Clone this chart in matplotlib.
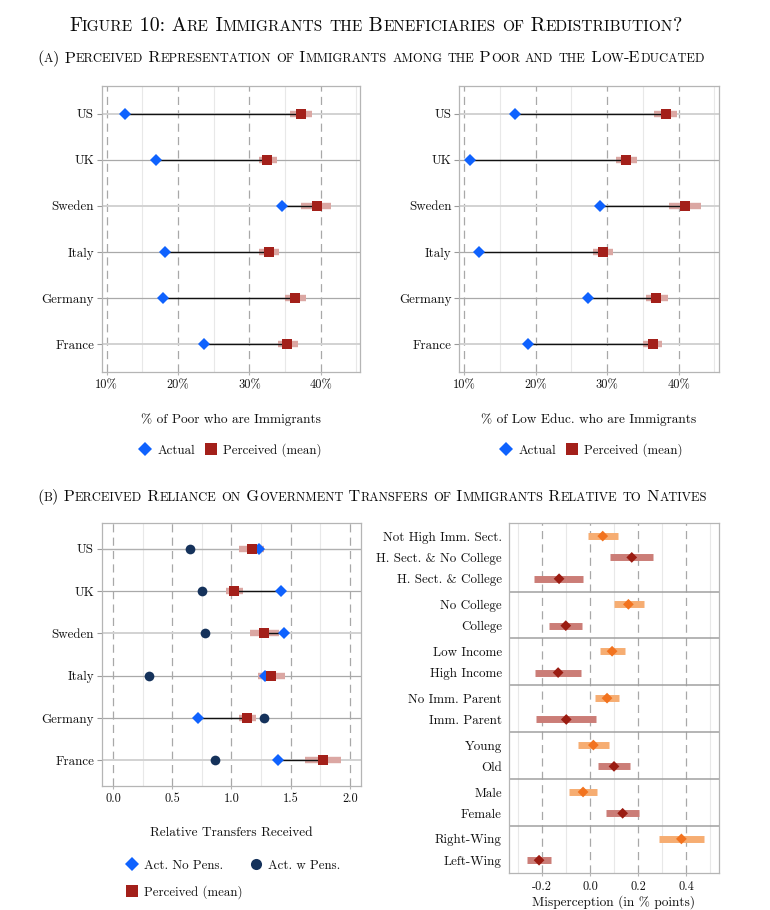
import matplotlib
matplotlib.use("Agg")
import matplotlib.pyplot as plt
from matplotlib.lines import Line2D
from matplotlib import font_manager as fm

FAM = "cmr10"
plt.rcParams.update({
    "font.family": FAM,
    "axes.unicode_minus": False,
    "mathtext.fontset": "cm",
    "axes.formatter.use_mathtext": True,
})

# ---------------- data ----------------
countries = ["US", "UK", "Sweden", "Italy", "Germany", "France"]

poor_actual = [12.6, 16.9, 34.6, 18.2, 17.9, 23.6]
poor_perc = [37.3, 32.5, 39.5, 32.7, 36.4, 35.3]
poor_lo = [35.7, 31.3, 37.3, 31.3, 35.0, 34.0]
poor_hi = [38.8, 33.8, 41.5, 34.1, 37.9, 36.8]

educ_actual = [17.1, 10.8, 29.0, 12.0, 27.3, 18.9]
educ_perc = [38.2, 32.7, 40.9, 29.4, 36.9, 36.4]
educ_lo = [36.5, 31.2, 38.7, 28.0, 35.4, 35.0]
educ_hi = [39.8, 34.2, 43.1, 30.8, 38.5, 37.7]

trans_nopens = [1.235, 1.42, 1.44, 1.28, 0.72, 1.39]
trans_wpens = [0.65, 0.75, 0.78, 0.30, 1.27, 0.86]
trans_perc = [1.17, 1.02, 1.275, 1.335, 1.135, 1.77]
trans_lo = [1.06, 0.95, 1.16, 1.22, 1.065, 1.62]
trans_hi = [1.27, 1.10, 1.40, 1.45, 1.21, 1.92]

mis_groups = [
    ["Not High Imm. Sect.", "H. Sect. & No College", "H. Sect. & College"],
    ["No College", "College"],
    ["Low Income", "High Income"],
    ["No Imm. Parent", "Imm. Parent"],
    ["Young", "Old"],
    ["Male", "Female"],
    ["Right-Wing", "Left-Wing"],
]
mis_est = [0.053, 0.174, -0.129, 0.160, -0.101, 0.092, -0.133, 0.071, -0.099,
           0.014, 0.100, -0.029, 0.136, 0.381, -0.2125]
mis_lo = [-0.008, 0.083, -0.233, 0.100, -0.170, 0.040, -0.230, 0.022, -0.224,
          -0.049, 0.035, -0.0875, 0.065, 0.289, -0.261]
mis_hi = [0.118, 0.264, -0.028, 0.225, -0.033, 0.144, -0.0375, 0.121, 0.024,
          0.079, 0.165, 0.029, 0.205, 0.474, -0.164]

title = "Figure 10: Are Immigrants the Beneficiaries of Redistribution?"
sub_a = "(a) Perceived Representation of Immigrants among the Poor and the Low-Educated"
sub_b = "(b) Perceived Reliance on Government Transfers of Immigrants Relative to Natives"

# ---------------- style ----------------
W, H = 770, 910
BLUE = "#0f62fe"
RED = "#a3201a"
RED_CI = "#dba7a3"
NAVY = "#15325b"
ORANGE = "#f2731f"
ORANGE_CI = "#f6ad72"
DRED = "#9b1c12"
DRED_CI = "#cb7d77"
TXT = "#111111"
FRAME = "#b5b5b5"

fig = plt.figure(figsize=(W / 100, H / 100), dpi=100)


def fx(x):
    return x / W


def fy(y):
    return 1 - y / H


def rect(x0, y0, x1, y1):
    return [x0 / W, 1 - y1 / H, (x1 - x0) / W, (y1 - y0) / H]


def style_axes(ax, major, minor, xlim, ytick_len=3.5):
    ax.set_xlim(*xlim)
    ax.set_xticks(major)
    ax.set_xticks(minor, minor=True)
    ax.grid(which="minor", axis="x", color="#e8e8e8", lw=0.8, zorder=0)
    ax.grid(which="major", axis="x", color="#a8a8a8", lw=0.9,
            linestyle=(0, (6.5, 4.2)), zorder=0)
    ax.set_axisbelow(True)
    for sp in ax.spines.values():
        sp.set_color(FRAME)
        sp.set_linewidth(0.9)
    ax.tick_params(axis="x", which="major", length=2.5, width=0.8, color=FRAME,
                   labelsize=8.9, labelcolor=TXT, pad=3)
    ax.tick_params(axis="x", which="minor", length=0)
    ax.tick_params(axis="y", length=ytick_len, width=0.8, color="#9a9a9a",
                   labelsize=9.4, labelcolor=TXT, pad=2)


ypos = [6 - i for i in range(len(countries))]
hl_col = ["#d2d2d2", "#a9a9a9", "#d2d2d2", "#a9a9a9", "#a9a9a9", "#d2d2d2"]
hl_lw = [1.4, 0.9, 1.4, 0.9, 0.9, 1.4]


def dumbbell(ax, actual, perc, lo, hi):
    for y, c, lw in zip(ypos, hl_col, hl_lw):
        ax.axhline(y, color=c, lw=lw, zorder=1)
    ax.hlines(ypos, lo, hi, color=RED_CI, lw=4.6, zorder=2)
    ax.hlines(ypos, actual, perc, color="#111111", lw=1.0, zorder=3)
    ax.plot(actual, ypos, "D", color=BLUE, ms=6.2, mew=0, ls="none", zorder=5)
    ax.plot(perc, ypos, "s", color=RED, ms=7.8, mew=0, ls="none", zorder=5)
    ax.set_ylim(0.4, 6.6)
    ax.set_yticks(ypos)
    ax.set_yticklabels(countries)


pct_major = [10, 20, 30, 40]
pct_minor = [15, 25, 35, 45]

# Panel a left
ax1 = fig.add_axes(rect(101.7, 86, 360, 372))
style_axes(ax1, pct_major, pct_minor, (9.3, 45.5))
dumbbell(ax1, poor_actual, poor_perc, poor_lo, poor_hi)
ax1.set_xticklabels([f"{v}%" for v in pct_major])

# Panel a right
ax2 = fig.add_axes(rect(459.3, 86, 719.3, 372))
style_axes(ax2, pct_major, pct_minor, (9.3, 45.7))
dumbbell(ax2, educ_actual, educ_perc, educ_lo, educ_hi)
ax2.set_xticklabels([f"{v}%" for v in pct_major])

fig.text(fx(231), fy(420), "% of Poor who are Immigrants", ha="center",
         va="center", fontsize=9.6, color=TXT)
fig.text(fx(589), fy(420), "% of Low Educ. who are Immigrants", ha="center",
         va="center", fontsize=9.6, color=TXT)

h_act = Line2D([], [], marker="D", color=BLUE, ms=7.2, mew=0, ls="none")
h_per = Line2D([], [], marker="s", color=RED, ms=9, mew=0, ls="none")
h_wp = Line2D([], [], marker="o", color=NAVY, ms=8, mew=0, ls="none")
for xc in (230, 591):
    fig.legend([h_act, h_per], ["Actual", "Perceived (mean)"], loc="center",
               bbox_to_anchor=(fx(xc), fy(450)), ncol=2, frameon=False,
               fontsize=9.3, handlelength=1.0, handletextpad=0.45,
               columnspacing=0.7, borderpad=0, labelcolor=TXT)

# Panel b left
ax3 = fig.add_axes(rect(101.7, 523.3, 360.7, 785.7))
style_axes(ax3, [0, 0.5, 1.0, 1.5, 2.0], [0.25, 0.75, 1.25, 1.75], (-0.095, 2.09))
hl_col_b = ["#b0b0b0", "#a9a9a9", "#d2d2d2", "#a9a9a9", "#a9a9a9", "#d2d2d2"]
hl_lw_b = [1.0, 0.9, 1.4, 0.9, 0.9, 1.4]
for y, c, lw in zip(ypos, hl_col_b, hl_lw_b):
    ax3.axhline(y, color=c, lw=lw, zorder=1)
ax3.hlines(ypos, trans_lo, trans_hi, color=RED_CI, lw=4.6, zorder=2)
ax3.hlines(ypos, trans_nopens, trans_perc, color="#111111", lw=1.0, zorder=3)
ax3.plot(trans_wpens, ypos, "o", color=NAVY, ms=7.0, mew=0, ls="none", zorder=5)
ax3.plot(trans_nopens, ypos, "D", color=BLUE, ms=5.8, mew=0, ls="none", zorder=5)
ax3.plot(trans_perc, ypos, "s", color=RED, ms=7.5, mew=0, ls="none", zorder=6)
ax3.set_ylim(0.4, 6.6)
ax3.set_yticks(ypos)
ax3.set_yticklabels(countries)
ax3.set_xticklabels(["0.0", "0.5", "1.0", "1.5", "2.0"])
fig.text(fx(231), fy(833), "Relative Transfers Received", ha="center",
         va="center", fontsize=9.6, color=TXT)
fig.legend([h_act, h_per, h_wp], ["Act. No Pens.", "Perceived (mean)", "Act. w Pens."],
           loc="upper left", bbox_to_anchor=(fx(119), fy(853)), ncol=2,
           frameon=False, fontsize=9.3, handlelength=1.0, handletextpad=0.45,
           columnspacing=0.5, borderpad=0, labelspacing=1.05, labelcolor=TXT)

# Panel b right
ax4 = fig.add_axes(rect(508.7, 523.3, 719.3, 873))
style_axes(ax4, [-0.2, 0.0, 0.2, 0.4], [-0.3, -0.1, 0.1, 0.3, 0.5],
           (-0.339, 0.539), ytick_len=0)
ys, labels, seps = [], [], []
off = 0.0
for gi, g in enumerate(mis_groups):
    for i, lab in enumerate(g):
        ys.append(off + 0.6 + i)
        labels.append(lab)
    off += len(g) - 1 + 1.2
    if gi < len(mis_groups) - 1:
        seps.append(off)
first = []
for g in mis_groups:
    first += [True] + [False] * (len(g) - 1)
for s in seps:
    ax4.axhline(s, color="#a0a0a0", lw=1.1, zorder=1)
ci_cols = [ORANGE_CI if f else DRED_CI for f in first]
pt_cols = [ORANGE if f else DRED for f in first]
ax4.hlines(ys, mis_lo, mis_hi, colors=ci_cols, lw=5.0, zorder=2)
ax4.scatter(mis_est, ys, marker="D", c=pt_cols, s=30, linewidths=0, zorder=4)
ax4.set_ylim(off, 0)
ax4.set_yticks(ys)
ax4.set_yticklabels(labels)
ax4.tick_params(axis="y", pad=5)
ax4.set_xticklabels(["-0.2", "0.0", "0.2", "0.4"])
fig.text(fx(613), fy(902), "Misperception (in % points)", ha="center",
         va="center", fontsize=9.6, color=TXT)

# ---------------- small-caps titles ----------------
font_path = fm.findfont(fm.FontProperties(family=FAM))


def advance(s, size):
    f = fm.get_font(font_path)
    f.set_size(size, 100)
    w = 0.0
    for ch in s:
        g = f.load_char(ord(ch))
        w += g.linearHoriAdvance / 65536
    return w


def runs_of(text):
    out = []
    for ch in text:
        low = ch.islower()
        if out and out[-1][1] == low:
            out[-1][0] += ch
        else:
            out.append([ch, low])
    return out


def smallcaps(text, x0, x1, baseline, ratio=0.77):
    runs = runs_of(text)
    ref = 10.0
    tot = sum(advance(r.upper(), ref * (ratio if low else 1)) for r, low in runs)
    size = ref * (x1 - x0) / tot
    x = x0
    for r, low in runs:
        s = size * (ratio if low else 1)
        fig.text(fx(x), fy(baseline), r.upper(), fontsize=s, ha="left",
                 va="baseline", color="#0a0a0a")
        x += advance(r.upper(), s)


smallcaps(title, 69, 682, 31)
smallcaps(sub_a, 37, 705, 62.5)
smallcaps(sub_b, 37, 707, 500.5)

fig.savefig("out.png", dpi=100)
